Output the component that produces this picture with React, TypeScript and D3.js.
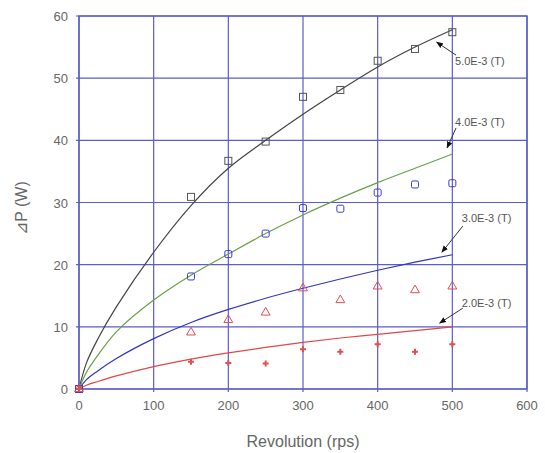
import React, { useEffect, useRef } from "react";
import * as d3 from "d3";

// measured points (rps vs dP)
const revs = [0, 150, 200, 250, 300, 350, 400, 450, 500];
const p50 = [0, 30.9, 36.7, 39.8, 47.0, 48.1, 52.8, 54.7, 57.4];
const p40 = [0, 18.1, 21.7, 25.0, 29.1, 29.0, 31.6, 32.9, 33.1];
const p30 = [0, 9.1, 11.1, 12.3, 16.2, 14.3, 16.5, 15.9, 16.5];
const p20 = [0, 4.4, 4.2, 4.1, 6.4, 6.0, 7.2, 6.0, 7.2];

// calculated curves
const fitX = [0, 10, 25, 50, 100, 150, 200, 250, 300, 350, 400, 450, 500];
const fit50 = [0, 4.2, 8, 13.2, 22, 29.5, 35.5, 40, 44.2, 48.1, 51.8, 55, 57.8];
const fit40 = [0, 2.7, 5.4, 9.2, 14.3, 18.3, 21.7, 25.0, 28.0, 30.7, 33.2, 35.5, 37.8];
const fit30 = [0, 1.5, 2.9, 4.9, 8.1, 10.7, 12.8, 14.6, 16.2, 17.7, 19.1, 20.4, 21.6];
const fit20 = [0, 0.6, 1.2, 2.1, 3.6, 4.8, 5.8, 6.7, 7.5, 8.2, 8.8, 9.4, 10.0];

const labels = ["5.0E-3 (T)", "4.0E-3 (T)", "3.0E-3 (T)", "2.0E-3 (T)"];
// [tipX, tipY, tailX, tailY, textY] in data units
const notes = [
  [479, 55.8, 505, 53.7, 52.8],
  [493, 38.8, 505, 42.0, 42.9],
  [486, 22.0, 514, 26.2, 27.5],
  [483, 10.6, 514, 13.0, 13.8],
];

const xTicks = [0, 100, 200, 300, 400, 500, 600];
const yTicks = [0, 10, 20, 30, 40, 50, 60];

function drawChart(node: SVGSVGElement) {
  const width = 545, height = 453;
  const x0 = 79, x1 = 527, y0 = 389, y1 = 16;
  const grid = "#5c5cca";
  const font = "'Liberation Sans', Arial, sans-serif";

  const svg = d3.select(node);
  svg.selectAll("*").remove();
  svg.attr("width", width).attr("height", height);
  svg.append("rect").attr("width", width).attr("height", height).attr("fill", "#fff");

  const x = d3.scaleLinear().domain([0, 600]).range([x0, x1]);
  const y = d3.scaleLinear().domain([0, 60]).range([y0, y1]);

  const defs = svg.append("defs");
  defs.append("marker")
    .attr("id", "ah")
    .attr("viewBox", "0 0 10 10")
    .attr("refX", 9).attr("refY", 5)
    .attr("markerWidth", 7).attr("markerHeight", 7)
    .attr("orient", "auto")
    .append("path").attr("d", "M0,1 L10,5 L0,9 z").attr("fill", "#111");

  // grid
  svg.append("g").selectAll("line").data(xTicks).enter().append("line")
    .attr("x1", d => x(d)).attr("x2", d => x(d))
    .attr("y1", y1).attr("y2", y0 + 3)
    .attr("stroke", grid).attr("stroke-width", 1.2);
  svg.append("g").selectAll("line").data(yTicks).enter().append("line")
    .attr("x1", x0 - 3).attr("x2", x1)
    .attr("y1", d => y(d)).attr("y2", d => y(d))
    .attr("stroke", grid).attr("stroke-width", 1.2);
  svg.append("rect").attr("x", x0).attr("y", y1)
    .attr("width", x1 - x0).attr("height", y0 - y1)
    .attr("fill", "none").attr("stroke", grid).attr("stroke-width", 1.4);

  // tick labels
  svg.append("g").selectAll("text").data(xTicks).enter().append("text")
    .attr("x", d => x(d)).attr("y", y0 + 21)
    .attr("text-anchor", "middle")
    .attr("font-family", font).attr("font-size", 13).attr("fill", "#666")
    .text(d => d);
  svg.append("g").selectAll("text").data(yTicks).enter().append("text")
    .attr("x", x0 - 11).attr("y", d => y(d) + 5)
    .attr("text-anchor", "end")
    .attr("font-family", font).attr("font-size", 13).attr("fill", "#666")
    .text(d => d);

  svg.append("text")
    .attr("x", (x0 + x1) / 2).attr("y", 447)
    .attr("text-anchor", "middle")
    .attr("font-family", font).attr("font-size", 16).attr("fill", "#666")
    .text("Revolution (rps)");
  svg.append("text")
    .attr("transform", "translate(27,208) rotate(-90)")
    .attr("text-anchor", "middle")
    .attr("font-family", font).attr("font-size", 16).attr("fill", "#666")
    .text("⊿P (W)");

  // curves
  const line = d3.line<number>()
    .x((d, i) => x(fitX[i]))
    .y(d => y(d))
    .curve(d3.curveCatmullRom.alpha(0.5));
  const curves: [number[], string][] = [
    [fit50, "#444"], [fit40, "#6aa04a"], [fit30, "#3434c4"], [fit20, "#e04848"],
  ];
  curves.forEach(([vals, col]) => {
    svg.append("path").attr("d", line(vals)).attr("fill", "none")
      .attr("stroke", col).attr("stroke-width", 1.2);
  });

  // markers
  const g = svg.append("g").attr("fill", "none").attr("stroke-width", 1);
  g.selectAll(".sq").data(p50).enter().append("rect")
    .attr("x", (d, i) => x(revs[i]) - 3.5).attr("y", d => y(d) - 3.5)
    .attr("width", 7).attr("height", 7).attr("stroke", "#555");
  g.selectAll(".ci").data(p40).enter().append("rect")
    .attr("x", (d, i) => x(revs[i]) - 3.5).attr("y", d => y(d) - 3.5)
    .attr("width", 7).attr("height", 7).attr("rx", 1.5)
    .attr("stroke", "#3a3ad8");
  const tri = d3.symbol().type(d3.symbolTriangle).size(34);
  g.selectAll(".tr").data(p30).enter().append("path")
    .attr("d", tri())
    .attr("transform", (d, i) => `translate(${x(revs[i])},${y(d)})`)
    .attr("stroke", "#e05050");
  const cross = d3.symbol().type(d3.symbolCross).size(20);
  g.selectAll(".cr").data(p20).enter().append("path")
    .attr("d", cross())
    .attr("transform", (d, i) => `translate(${x(revs[i])},${y(d)})`)
    .attr("fill", "#e05050").attr("stroke", "none");

  // annotations
  notes.forEach((n, i) => {
    svg.append("line")
      .attr("x1", x(n[2])).attr("y1", y(n[3]))
      .attr("x2", x(n[0])).attr("y2", y(n[1]))
      .attr("stroke", "#333").attr("stroke-width", 1)
      .attr("marker-end", "url(#ah)");
    svg.append("text")
      .attr("x", x(n[2]) - 1).attr("y", y(n[4]) + 4)
      .attr("font-family", font).attr("font-size", 11).attr("fill", "#555")
      .text(labels[i]);
  });
}

export default function App() {
  const ref = useRef<SVGSVGElement>(null);
  useEffect(() => {
    if (ref.current) drawChart(ref.current);
  });
  return (
    <div style={{ position: "absolute", left: 0, top: 0 }}>
      <svg ref={ref} />
    </div>
  );
}
